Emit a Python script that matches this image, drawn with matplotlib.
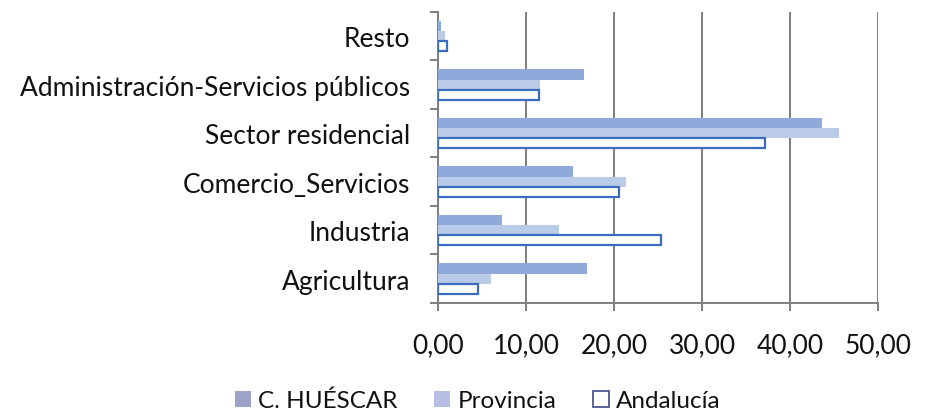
import numpy as np
import matplotlib
matplotlib.use("Agg")
import matplotlib.pyplot as plt
from matplotlib.patches import Patch

plt.rcParams['font.family'] = ['Lato', 'DejaVu Sans']

# Sectors, bottom to top as drawn
sectores = ['Agricultura', 'Industria', 'Comercio_Servicios',
            'Sector residencial', 'Administración-Servicios públicos', 'Resto']

# Share of consumption (%) by sector
huescar = [16.9, 7.3, 15.3, 43.6, 16.6, 0.3]
provincia = [6.0, 13.7, 21.4, 45.6, 11.6, 0.8]
andalucia = [4.6, 25.4, 20.6, 37.2, 11.5, 1.0]

series_names = ['C. HUÉSCAR', 'Provincia', 'Andalucía']
x_ticks = [0, 10, 20, 30, 40, 50]

FS = 19

fig = plt.figure(figsize=(9.28, 4.14), dpi=100)
ax = fig.add_axes([0.472, 0.266, 0.474, 0.703])

y = np.arange(len(sectores))
h = 0.21
ax.barh(y + h, huescar, height=h, color='#8FA9DA', edgecolor='none', zorder=3)
ax.barh(y, provincia, height=h, color='#BACBE8', edgecolor='none', zorder=3)
ax.barh(y - h, andalucia, height=h, color='white', edgecolor='#3C6CC0',
        linewidth=1.6, zorder=3)

ax.set_xlim(0, 50)
ax.set_ylim(-0.5, len(sectores) - 0.5)
ax.set_xticks(x_ticks)
ax.set_xticklabels([f'{v:.2f}'.replace('.', ',') for v in x_ticks])
ax.xaxis.grid(True, color='#7F7F7F', linewidth=1.4, zorder=0)

ax.set_yticks(y)
ax.set_yticklabels(sectores)
ax.set_yticks(np.arange(len(sectores) + 1) - 0.5, minor=True)
ax.tick_params(axis='y', which='major', length=0, pad=20, labelsize=FS, labelcolor='#111111')
ax.tick_params(axis='y', which='minor', length=6, width=1.4, color='#7F7F7F')
ax.tick_params(axis='x', length=6, width=1.4, color='#7F7F7F', pad=15,
               labelsize=FS, labelcolor='#111111')

for s in ['top', 'right']:
    ax.spines[s].set_visible(False)
for s in ['left', 'bottom']:
    ax.spines[s].set_color('#7F7F7F')
    ax.spines[s].set_linewidth(1.4)

handles = [Patch(facecolor='#9DA2C9', edgecolor='none'),
           Patch(facecolor='#B6BFE2', edgecolor='none'),
           Patch(facecolor='white', edgecolor='#3C4A8C', linewidth=1.2)]
leg = fig.legend(handles, series_names, loc='center', bbox_to_anchor=(0.515, 0.03),
                 ncol=3, frameon=False, fontsize=17.5, handlelength=0.65, handleheight=0.65,
                 handletextpad=0.3, columnspacing=1.5)
for t in leg.get_texts():
    t.set_color('#111111')

fig.savefig('out.png', dpi=100)
